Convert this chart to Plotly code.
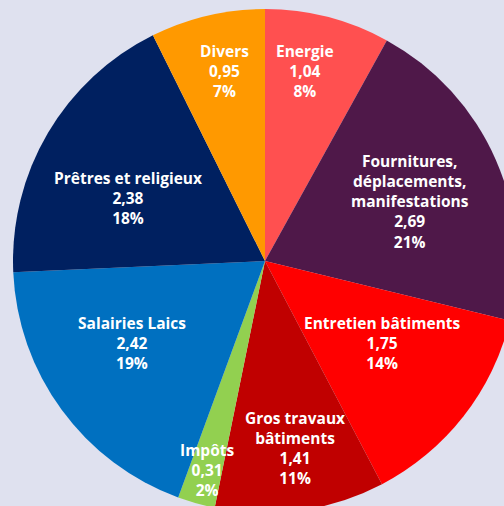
import math
import plotly.graph_objects as go

labels = ["Energie", "Fournitures,<br>déplacements,<br>manifestations", "Entretien bâtiments",
          "Gros travaux<br>bâtiments", "Impôts", "Salairies Laics", "Prêtres et religieux", "Divers"]
values = [1.04, 2.69, 1.75, 1.41, 0.31, 2.42, 2.38, 0.95]
colors = ["#FF5050", "#4F1849", "#FF0000", "#C00000", "#92D050", "#0070C0", "#002060", "#FF9900"]

# label placement style (fraction of radius, angular nudge in degrees from slice bisector)
label_radius = [0.77, 0.62, 0.57, 0.75, 0.86, 0.62, 0.60, 0.77]
label_nudge = [-2.6, 1.4, -3.0, -1.0, -0.3, 4.4, -5.8, 1.3]

total = sum(values)

fig = go.Figure(go.Pie(
    labels=labels, values=values, sort=False, direction="clockwise", rotation=0,
    marker=dict(colors=colors, line=dict(width=0)),
    textinfo="none", showlegend=False, hoverinfo="skip",
    domain=dict(x=[0, 1], y=[0, 1]),
))

cum = 0.0
for lab, v, rf, nd in zip(labels, values, label_radius, label_nudge):
    mid = (cum + v / 2) / total * 360 + nd
    cum += v
    th = math.radians(mid)
    txt = f"{lab}<br>{v:.2f}".replace(".", ",") + f"<br>{round(v / total * 100)}%"
    fig.add_annotation(
        x=0.5 + 0.5 * rf * math.sin(th), y=0.5 + 0.5 * rf * math.cos(th),
        xref="paper", yref="paper", text=txt, showarrow=False,
        xanchor="center", yanchor="middle", align="center",
        font=dict(family="Open Sans", size=15.5, color="white", weight="bold"),
    )

fig.update_layout(
    width=517, height=513, margin=dict(l=13, t=9, r=0, b=0),
    paper_bgcolor="#DFE1EF", plot_bgcolor="#DFE1EF",
)
fig.write_html(
    "out.html", config={"displayModeBar": False},
    post_script="document.body.style.margin='0';document.body.style.overflow='hidden';"
                "document.documentElement.style.overflow='hidden';document.body.style.background='#DFE1EF';",
)
